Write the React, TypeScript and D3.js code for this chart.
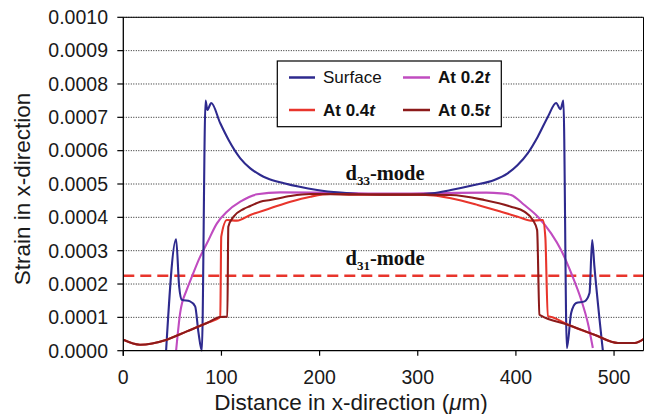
import React from "react";
import * as d3 from "d3";

const yTicks = [0, 0.0001, 0.0002, 0.0003, 0.0004, 0.0005, 0.0006, 0.0007, 0.0008, 0.0009, 0.001];
const xTicks = [0, 100, 200, 300, 400, 500];

const surfaceX = [43.6, 53.8, 56.9, 59.6, 68, 73.2, 76.6, 80, 83.8, 85.7, 89.6, 98.8, 107.3, 119.2, 129.4, 139.6, 146.5, 163.7, 197.5, 221, 240, 266, 290, 315, 333.7, 357.6, 378, 391.6, 401.8, 412, 422.3, 432.5, 441, 445.4, 448.4, 451.9, 456.3, 461.4, 470, 475, 477.7, 480, 488.6];
const surfaceY = [0, 0.000334, 0.000193, 0.000153, 0.000148, 0.000133, 0.000054, 0, 0.00075, 0.000722, 0.000743, 0.000682, 0.000632, 0.000577, 0.000547, 0.000527, 0.000517, 0.000502, 0.000482, 0.000474, 0.00047, 0.000468, 0.000468, 0.000472, 0.000482, 0.000497, 0.000512, 0.000532, 0.000557, 0.000592, 0.000642, 0.000701, 0.000743, 0.000724, 0.00075, 0.000008, 0.000113, 0.000143, 0.000148, 0.000173, 0.000332, 0.000252, 0];

const at02X = [53.8, 57.9, 64.7, 69.9, 78.3, 85.2, 95.4, 105.6, 119.2, 136.3, 160, 200, 266, 330, 370, 384.8, 395, 408.6, 422.3, 435.9, 446, 456.3, 466.5, 473.3, 478.4];
const at02Y = [0, 0.000113, 0.000183, 0.000222, 0.000282, 0.000322, 0.000382, 0.000417, 0.000447, 0.000469, 0.000475, 0.000474, 0.000471, 0.000473, 0.000474, 0.000472, 0.000467, 0.000437, 0.000402, 0.000352, 0.000302, 0.000233, 0.000153, 0.000083, 0.000008];

const at04X = [0, 17, 44.3, 64.7, 85.2, 98.8, 99.8, 105.6, 115.8, 129.4, 149.8, 170.3, 190.7, 211, 240, 266, 300, 316, 333.7, 361, 384.8, 401.8, 415.4, 427.4, 430, 432.5, 435, 453, 480, 504, 521, 530];
const at04Y = [0.000033, 0.000018, 0.000033, 0.000058, 0.000083, 0.000101, 0.000342, 0.000392, 0.00039, 0.000407, 0.000427, 0.000447, 0.000462, 0.00047, 0.000468, 0.000468, 0.000468, 0.000466, 0.000457, 0.000437, 0.000417, 0.000402, 0.00039, 0.000392, 0.00034, 0.000103, 0.000102, 0.000078, 0.000048, 0.000023, 0.000023, 0.000035];

const at05X = [0, 17, 44.3, 64.7, 85.2, 98.8, 106, 107, 112.4, 122.6, 129.4, 139.6, 149.8, 170.3, 190.7, 230, 266, 300, 333.7, 367.7, 395, 408.6, 417.2, 421.6, 424, 425.6, 453, 480, 504, 521, 530];
const at05Y = [0.000033, 0.000018, 0.000033, 0.000058, 0.000083, 0.000101, 0.000102, 0.000372, 0.000402, 0.000425, 0.000434, 0.000447, 0.000452, 0.000464, 0.00047, 0.000469, 0.000468, 0.000468, 0.000467, 0.000452, 0.000432, 0.000417, 0.000392, 0.000362, 0.000108, 0.000105, 0.000078, 0.000048, 0.000023, 0.000023, 0.000035];

const d31Level = 0.000225;

const COLORS = { surface: "#2e2a8e", at02: "#c04cc0", at04: "#e8352c", at05: "#8c1a1a" };

const W = 649, H = 414;
const M = { left: 123.3, right: 643.5, top: 17.3, bottom: 350.7 };

export default function App() {
  const x = d3.scaleLinear().domain([0, 530]).range([M.left, M.right]);
  const y = d3.scaleLinear().domain([0, 0.001]).range([M.bottom, M.top]);
  const line = d3
    .line<[number, number]>()
    .x(d => x(d[0]))
    .y(d => y(d[1]))
    .curve(d3.curveMonotoneX);
  const mk = (xs: number[], ys: number[]) => line(xs.map((v, i) => [v, ys[i]] as [number, number])) || "";

  const series = [
    { key: "at02", d: mk(at02X, at02Y), c: COLORS.at02 },
    { key: "surface", d: mk(surfaceX, surfaceY), c: COLORS.surface },
    { key: "at04", d: mk(at04X, at04Y), c: COLORS.at04 },
    { key: "at05", d: mk(at05X, at05Y), c: COLORS.at05 },
  ];

  const sans = "'Liberation Sans', Arial, Helvetica, sans-serif";
  const serif = "'Liberation Serif', 'Times New Roman', serif";

  return (
    <svg width={W} height={H} style={{ position: "absolute", left: 0, top: 0, background: "#fff" }} fontFamily={sans}>
      <defs>
        <clipPath id="plot">
          <rect x={M.left} y={M.top} width={M.right - M.left} height={M.bottom - M.top + 1} />
        </clipPath>
      </defs>
      {yTicks.slice(1).map(t => (
        <line key={t} x1={M.left} x2={M.right} y1={y(t)} y2={y(t)} stroke="#222" strokeWidth={1} strokeDasharray="1,1.5" />
      ))}
      <line x1={M.left} x2={M.right} y1={y(d31Level)} y2={y(d31Level)} stroke={COLORS.at04} strokeWidth={2.5} strokeDasharray="11,6" />
      <g clipPath="url(#plot)">
        {series.map(s => (
          <path key={s.key} d={s.d} fill="none" stroke={s.c} strokeWidth={2.1} strokeLinejoin="round" />
        ))}
      </g>
      <line x1={M.left} x2={M.right} y1={M.top} y2={M.top} stroke="#000" strokeWidth={1} />
      <line x1={M.right} x2={M.right} y1={M.top} y2={M.bottom} stroke="#000" strokeWidth={1} />
      <line x1={M.left} x2={M.left} y1={M.top} y2={M.bottom + 5} stroke="#000" strokeWidth={1.3} />
      <line x1={M.left} x2={M.right} y1={M.bottom} y2={M.bottom} stroke="#000" strokeWidth={1.3} />
      {yTicks.map(t => (
        <g key={t}>
          <line x1={M.left - 6} x2={M.left} y1={y(t)} y2={y(t)} stroke="#000" strokeWidth={1.2} />
          <text x={108} y={y(t)} dy="0.35em" textAnchor="end" fontSize={19.5} fill="#1a1a1a">{t.toFixed(4)}</text>
        </g>
      ))}
      {xTicks.map(t => (
        <g key={t}>
          <line x1={x(t)} x2={x(t)} y1={M.bottom} y2={M.bottom + 5} stroke="#000" strokeWidth={1.2} />
          <text x={x(t)} y={383.5} textAnchor="middle" fontSize={19.5} fill="#1a1a1a">{t}</text>
        </g>
      ))}
      <text x={351} y={410} textAnchor="middle" fontSize={22.5} fill="#1a1a1a">
        Distance in x-direction (<tspan fontStyle="italic">μ</tspan>m)
      </text>
      <text transform={`translate(30,${(M.top + M.bottom) / 2 + 5}) rotate(-90)`} textAnchor="middle" fontSize={22.5} fill="#1a1a1a">
        Strain in x-direction
      </text>
      <text x={385} y={180} textAnchor="middle" fontFamily={serif} fontWeight="bold" fontSize={20.5} fill="#111">
        d<tspan fontSize={13} dy={5}>33</tspan><tspan dy={-5}>-mode</tspan>
      </text>
      <text x={385} y={265} textAnchor="middle" fontFamily={serif} fontWeight="bold" fontSize={20.5} fill="#111">
        d<tspan fontSize={13} dy={5}>31</tspan><tspan dy={-5}>-mode</tspan>
      </text>
      <g>
        <rect x={277.3} y={61} width={224} height={65.7} fill="#fff" stroke="#000" strokeWidth={1.2} />
        <line x1={289} x2={315} y1={77.5} y2={77.5} stroke={COLORS.surface} strokeWidth={2.5} />
        <text x={323} y={77.5} dy="0.35em" fontSize={17} fill="#111">Surface</text>
        <line x1={403} x2={430} y1={77.5} y2={77.5} stroke={COLORS.at02} strokeWidth={2.5} />
        <text x={438} y={77.5} dy="0.35em" fontSize={17} fontWeight="bold" fill="#111">At 0.2<tspan fontStyle="italic">t</tspan></text>
        <line x1={289} x2={315} y1={110} y2={110} stroke={COLORS.at04} strokeWidth={2.5} />
        <text x={323} y={110} dy="0.35em" fontSize={17} fontWeight="bold" fill="#111">At 0.4<tspan fontStyle="italic">t</tspan></text>
        <line x1={403} x2={430} y1={110} y2={110} stroke={COLORS.at05} strokeWidth={2.5} />
        <text x={438} y={110} dy="0.35em" fontSize={17} fontWeight="bold" fill="#111">At 0.5<tspan fontStyle="italic">t</tspan></text>
      </g>
    </svg>
  );
}
